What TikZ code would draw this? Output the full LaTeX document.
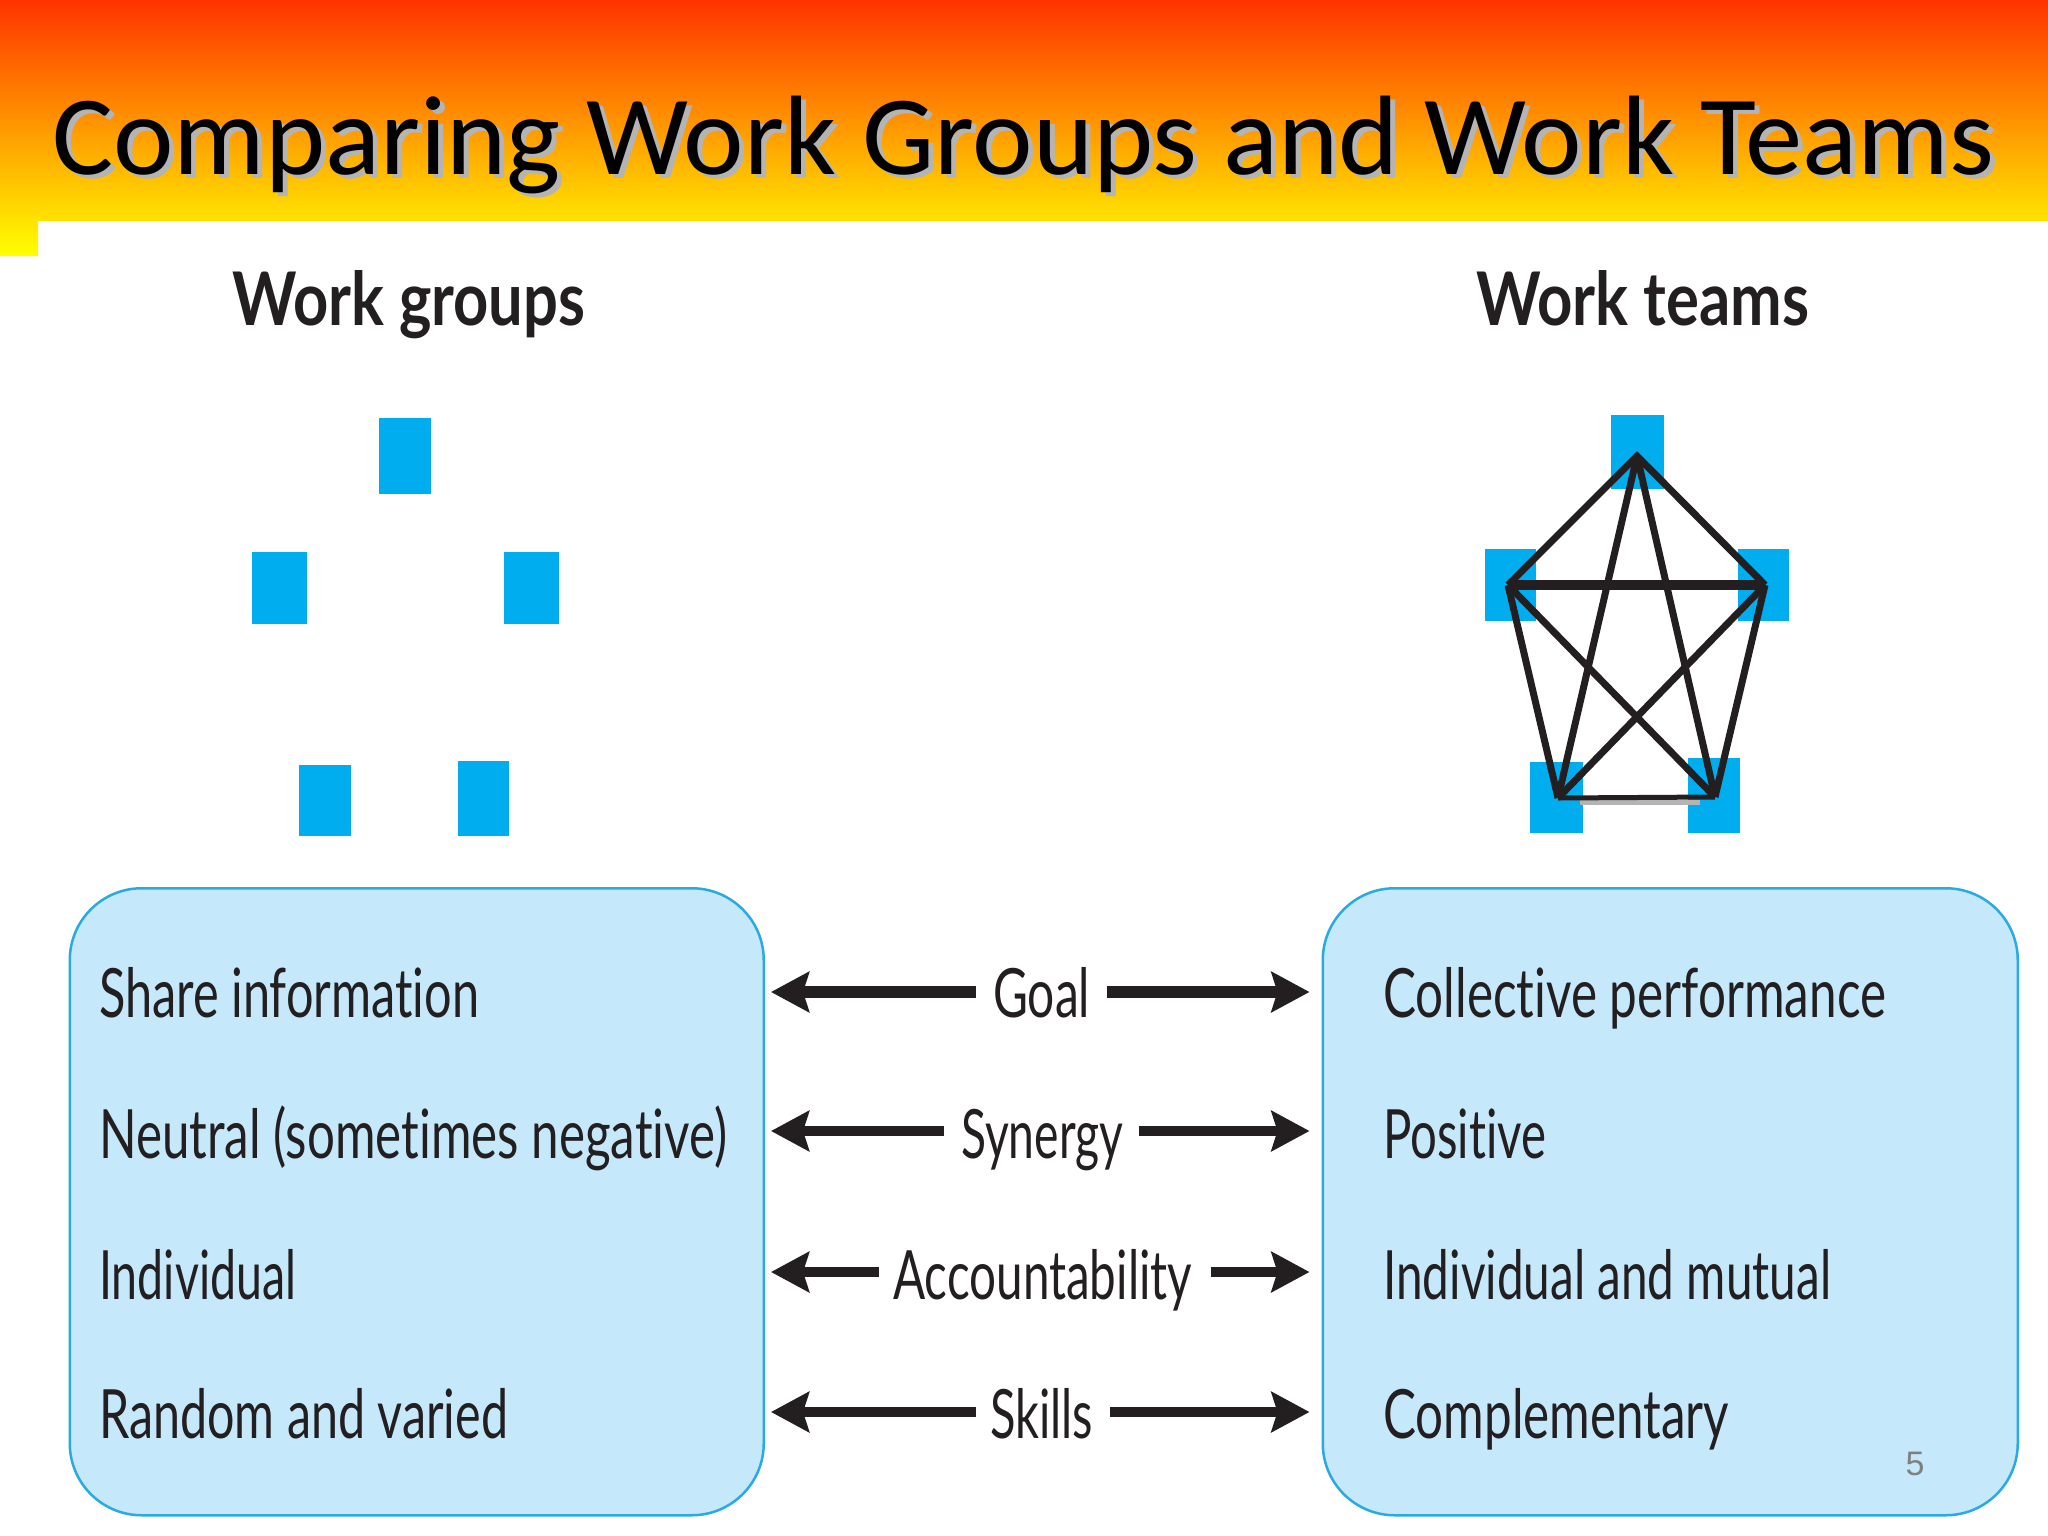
\documentclass[tikz,border=0pt]{standalone}
\usepackage{fontspec}
\usepackage{graphicx}
\usetikzlibrary{arrows.meta}
\setmainfont{Lato}[Ligatures=NoCommon]
\newfontfamily\titlefont{Carlito}[Ligatures=NoCommon]
\newfontfamily\numfont{Liberation Sans}
\definecolor{ink}{HTML}{231F20}
\definecolor{sqblue}{HTML}{00AEEF}
\definecolor{boxfill}{HTML}{C5E8FB}
\definecolor{boxline}{HTML}{29ABE2}
\definecolor{shadowgray}{HTML}{B4B4B4}
\definecolor{bandtop}{HTML}{FF3300}
\definecolor{bandbottom}{HTML}{FFFF00}
\newcommand{\fitw}[2]{\resizebox{#1pt}{\height}{#2}}
\tikzset{
  x=1pt,y=-1pt,
  bodytext/.style={anchor=base west,inner sep=0pt,text=ink,font=\fontsize{68}{72}\selectfont},
  headtext/.style={anchor=base west,inner sep=0pt,text=ink,font=\fontsize{74}{78}\selectfont\bfseries},
  titletext/.style={anchor=base west,inner sep=0pt,font=\titlefont\fontsize{113}{120}\selectfont},
  panel/.style={draw=boxline,fill=boxfill,line width=2.5pt,rounded corners=72pt},
  sq/.style={fill=sqblue,draw=none},
  link/.style={draw=ink,line width=7pt,line join=miter},
  twoway/.style={draw=ink,-{Stealth[length=38pt,width=40pt,inset=6pt]}}
}
\begin{document}
\begin{tikzpicture}
\useasboundingbox (0,0) rectangle (2048,1536);
\fill[white] (0,0) rectangle (2048,1536);
% header band
\shade[top color=bandtop,bottom color=bandbottom]
  (0,0) -- (2048,0) -- (2048,221) -- (38,221) -- (38,256) -- (0,256) -- cycle;
\node[titletext,text=shadowgray] (titleshadow) at (57,178) {\fitw{1942}{Comparing Work Groups and Work Teams}};
\node[titletext,text=black] (title) at (52,174) {\fitw{1942}{Comparing Work Groups and Work Teams}};
% column heads
\node[headtext] (headL) at (232,325) {\fitw{353}{Work groups}};
\node[headtext] (headR) at (1476,325) {\fitw{333}{Work teams}};
% group squares
\fill[sq] (379,418) rectangle (431,494);
\fill[sq] (252,552) rectangle (307,624);
\fill[sq] (504,552) rectangle (559,624);
\fill[sq] (299,765) rectangle (351,836);
\fill[sq] (458,761) rectangle (509,836);
% team squares
\fill[sq] (1611,415) rectangle (1664,489);
\fill[sq] (1485,549) rectangle (1536,621);
\fill[sq] (1738,549) rectangle (1789,621);
\fill[sq] (1530,762) rectangle (1583,833);
\fill[sq] (1688,758) rectangle (1740,833);
% team links
\coordinate (pT) at (1637,456);
\coordinate (pL) at (1508,585);
\coordinate (pR) at (1765,585);
\coordinate (pA) at (1558,798);
\coordinate (pB) at (1715,797);
\draw[shadowgray,line width=5pt] (1580,802) -- (1700,802);
\draw[link] (pL) -- (pT) -- (pR);
\draw[link,line width=10pt] (pL) -- (pR);
\draw[link] (pT) -- (pA);
\draw[link] (pT) -- (pB);
\draw[link] (pL) -- (pA);
\draw[link] (pR) -- (pB);
\draw[link] (pL) -- (pB);
\draw[link] (pR) -- (pA);
\draw[link,line width=5pt] (pA) -- (pB);
% panels
\node[panel,minimum width=694pt,minimum height=627pt,inner sep=0pt,anchor=north west] (boxL) at (68.5,887) {};
\node[panel,minimum width=695pt,minimum height=627pt,inner sep=0pt,anchor=north west] (boxR) at (1321.5,887) {};
% left entries
\node[bodytext] (l1) at (99,1017) {\fitw{380}{Share information}};
\node[bodytext] (l2) at (99,1158) {\fitw{628}{Neutral (sometimes negative)}};
\node[bodytext] (l3) at (99,1299) {\fitw{197}{Individual}};
\node[bodytext] (l4) at (99,1438) {\fitw{409}{Random and varied}};
% right entries
\node[bodytext] (r1) at (1383,1017) {\fitw{503}{Collective performance}};
\node[bodytext] (r2) at (1383,1158) {\fitw{163}{Positive}};
\node[bodytext] (r3) at (1383,1299) {\fitw{448}{Individual and mutual}};
\node[bodytext] (r4) at (1383,1438) {\fitw{346}{Complementary}};
% centre labels
\node[bodytext] (c1) at (993,1017) {\fitw{97}{Goal}};
\node[bodytext] (c2) at (961,1158) {\fitw{162}{Synergy}};
\node[bodytext] (c3) at (893,1299) {\fitw{299}{Accountability}};
\node[bodytext] (c4) at (990,1438) {\fitw{103}{Skills}};
% arrow starts
\coordinate (a1l) at (976,992);  \coordinate (a1r) at (1107,992);
\coordinate (a2l) at (944,1131); \coordinate (a2r) at (1139,1131);
\coordinate (a3l) at (879,1272); \coordinate (a3r) at (1211,1272);
\coordinate (a4l) at (976,1412); \coordinate (a4r) at (1110,1412);
\draw[twoway,line width=12pt,shorten >=6pt] (a1l) -- (a1l -| boxL.east);
\draw[twoway,line width=12pt,shorten >=12pt] (a1r) -- (a1r -| boxR.west);
\draw[twoway,line width=10pt,shorten >=6pt] (a2l) -- (a2l -| boxL.east);
\draw[twoway,line width=10pt,shorten >=12pt] (a2r) -- (a2r -| boxR.west);
\draw[twoway,line width=10pt,shorten >=6pt] (a3l) -- (a3l -| boxL.east);
\draw[twoway,line width=10pt,shorten >=12pt] (a3r) -- (a3r -| boxR.west);
\draw[twoway,line width=10pt,shorten >=6pt] (a4l) -- (a4l -| boxL.east);
\draw[twoway,line width=10pt,shorten >=12pt] (a4r) -- (a4r -| boxR.west);
% page number
\node[inner sep=0pt,text=gray,font=\numfont\fontsize{34}{36}\selectfont] (pageno) at (1915,1464) {5};
\end{tikzpicture}
\end{document}
